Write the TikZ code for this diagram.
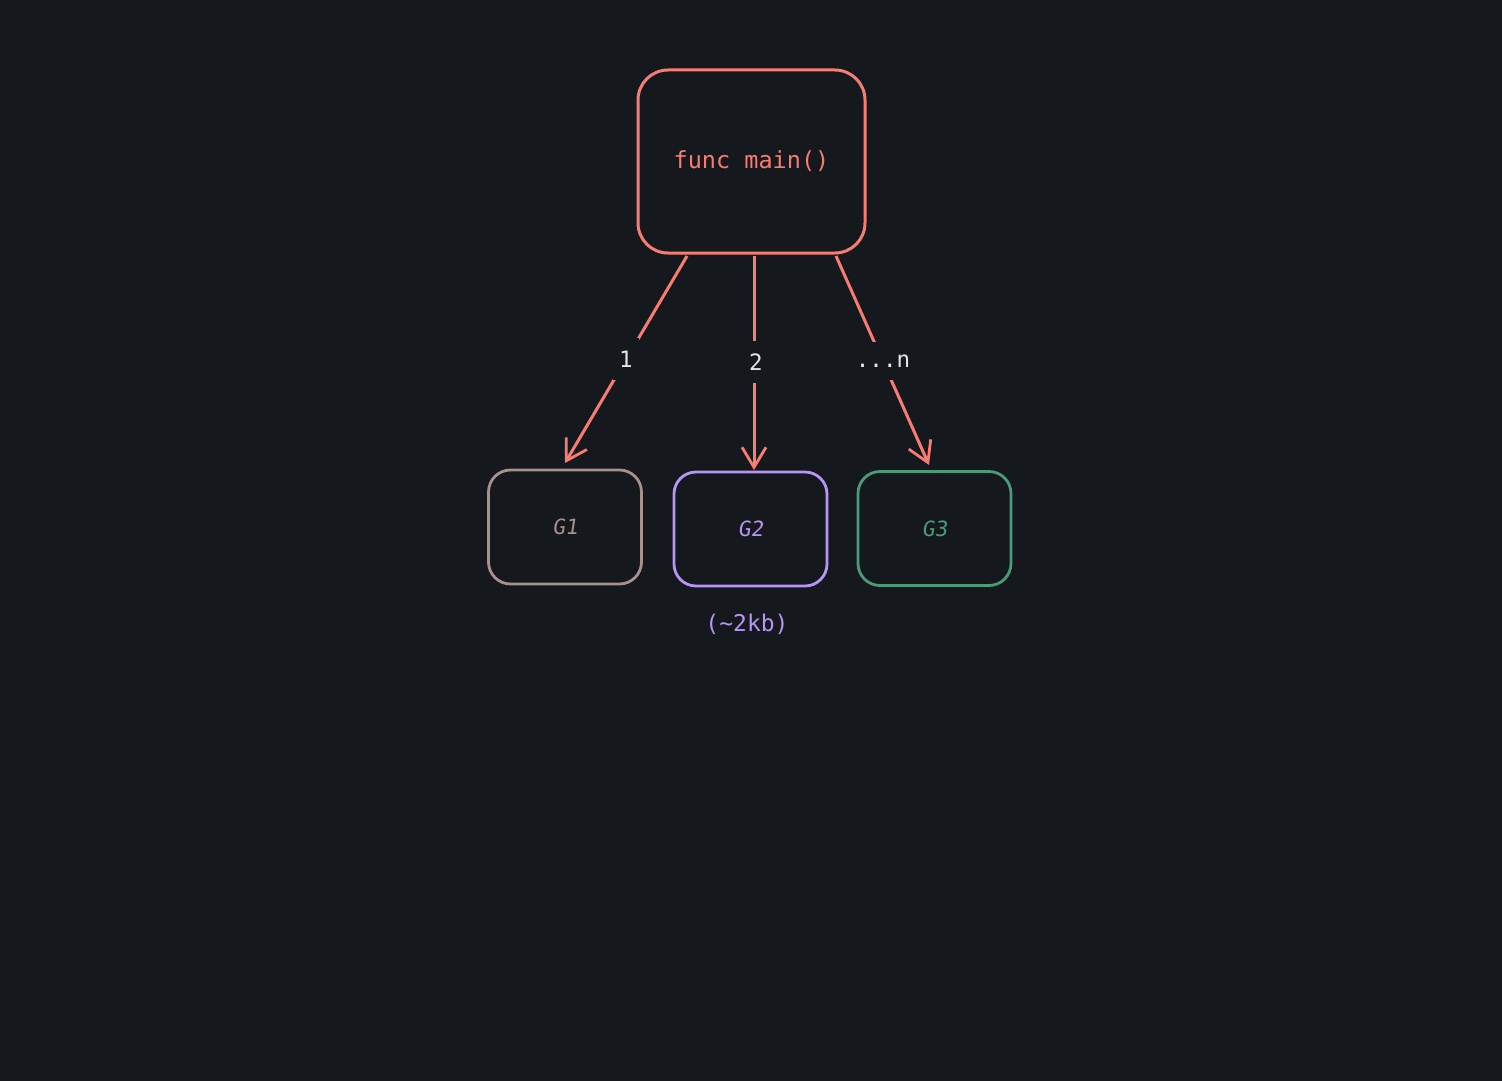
\documentclass[tikz,border=0pt]{standalone}
\usepackage{fontspec}
\setmonofont{DejaVu Sans Mono}
\newfontfamily\handfont{DejaVu Sans Mono}[FakeSlant=0.15]
\usetikzlibrary{arrows.meta}
\definecolor{bgc}{HTML}{15181D}
\definecolor{redc}{HTML}{F87C72}
\definecolor{g1c}{HTML}{A7918A}
\definecolor{g2c}{HTML}{B794F6}
\definecolor{g3c}{HTML}{4A9C78}
\definecolor{txtc}{HTML}{E6E6E6}
\tikzset{
  mainbox/.style={draw=redc, line width=3pt, rounded corners=30pt, minimum width=227pt, minimum height=183pt, text=redc, font=\ttfamily\fontsize{23.5}{28}\selectfont},
  gbox/.style={line width=2.8pt, rounded corners=22pt, minimum width=153pt, minimum height=114pt, font=\handfont\fontsize{21}{25}\selectfont},
  conn/.style={draw=redc, line width=3pt, -{Straight Barb[length=20pt,width=24pt,line width=2.8pt]}},
  lbl/.style={fill=bgc, text=txtc, inner xsep=6pt, inner ysep=13pt, font=\ttfamily\fontsize{22.5}{27}\selectfont}
}
\begin{document}
\begin{tikzpicture}[x=1pt,y=-1pt]
\fill[bgc] (0,0) rectangle (1502,1081);
\useasboundingbox (0,0) rectangle (1502,1081);
\node[mainbox] (main) at (751.5,161.5) {func main()};
\node[gbox, draw=g1c, text=g1c] (g1) at (565,527) {G1};
\node[gbox, draw=g2c, text=g2c] (g2) at (750.5,529) {G2};
\node[gbox, draw=g3c, text=g3c] (g3) at (934.5,528.5) {G3};
\node[text=g2c, font=\ttfamily\fontsize{23}{27}\selectfont] (kb) at (747,624) {(\char"7E 2kb)};
\coordinate (s1) at (687,256);
\coordinate (e1) at (565,463);
\coordinate (s2) at (754,256);
\coordinate (e2) at (754,470);
\coordinate (s3) at (836,256);
\coordinate (e3) at (929,465);
\draw[conn] (s1) -- (e1);
\draw[conn] (s2) -- (e2);
\draw[conn] (s3) -- (e3);
\node[lbl] (l1) at (626,359) {1};
\node[lbl] (l2) at (756,362) {2};
\node[lbl] (l3) at (883,361) {...n};
\end{tikzpicture}
\end{document}
